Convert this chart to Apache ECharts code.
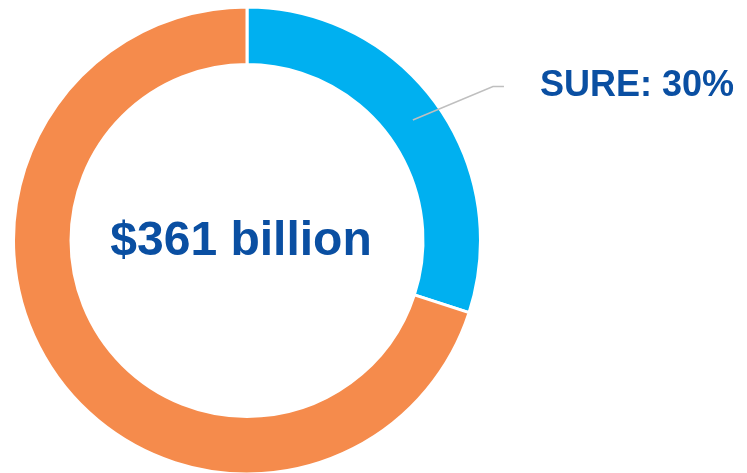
<!DOCTYPE html>
<html>
<head>
<meta charset="utf-8">
<title>SURE share</title>
<script src="https://cdn.jsdelivr.net/npm/echarts@6/dist/echarts.min.js"></script>
<style>
    html, body { margin: 0; padding: 0; background: #fff; }
    #pie { width: 747px; height: 473px; }
</style>
</head>
<body>
<div id="pie"></div>
<script>
// data
var sliceNames = ['SURE', 'Other'];
var sliceValues = [30, 70];
var sliceColors = ['#00B0F0', '#F58B4C'];
var totalText = '$361 billion';

var centerX = 247;
var centerY = 240.5;
var textBlue = '#0A4FA2';

var ringData = [];
var labelData = [];
for (var i = 0; i < sliceNames.length; i++) {
    ringData.push({
        name: sliceNames[i],
        value: sliceValues[i],
        itemStyle: {color: sliceColors[i]}
    });
    var item = {name: sliceNames[i], value: sliceValues[i]};
    // only SURE carries a label
    if (i > 0) {
        item.label = {show: false};
        item.labelLine = {show: false};
    }
    labelData.push(item);
}

var option = {
    animation: false,
    backgroundColor: '#fff',
    graphic: [
        {
            type: 'text',
            x: 241,
            y: 242,
            style: {
                text: totalText,
                fill: textBlue,
                font: 'bold 48px "Liberation Sans", Arial, sans-serif',
                align: 'center',
                verticalAlign: 'middle'
            }
        }
    ],
    series: [
        {
            // the ring itself
            type: 'pie',
            z: 2,
            center: [centerX, centerY],
            radius: [176, 233.5],
            startAngle: 90,
            clockwise: true,
            silent: true,
            itemStyle: {
                borderColor: '#fff',
                borderWidth: 3
            },
            label: {show: false},
            labelLine: {show: false},
            data: ringData
        },
        {
            // invisible copy so the leader line starts inside the ring and sits on top
            type: 'pie',
            z: 3,
            center: [centerX, centerY],
            radius: [0, 205],
            startAngle: 90,
            clockwise: true,
            silent: true,
            itemStyle: {color: 'rgba(0,0,0,0)', borderWidth: 0},
            label: {
                show: true,
                position: 'outside',
                formatter: '{b}: {d}%',
                color: textBlue,
                fontSize: 36,
                fontWeight: 'bold',
                fontFamily: '"Liberation Sans", Arial, sans-serif',
                distanceToLabelLine: 36
            },
            labelLine: {
                show: true,
                length: 57,
                length2: 45,
                lineStyle: {color: '#BFBFBF', width: 1.5}
            },
            labelLayout: function (params) {
                var pts = params.labelLinePoints;
                if (!pts) {
                    return {};
                }
                // kink just before the end, like the original callout
                return {
                    labelLinePoints: [pts[0], [pts[2][0] - 11, pts[1][1]], pts[2]]
                };
            },
            data: labelData
        }
    ]
};

var pie = echarts.init(document.getElementById('pie'));
pie.setOption(option);
</script>
</body>
</html>
